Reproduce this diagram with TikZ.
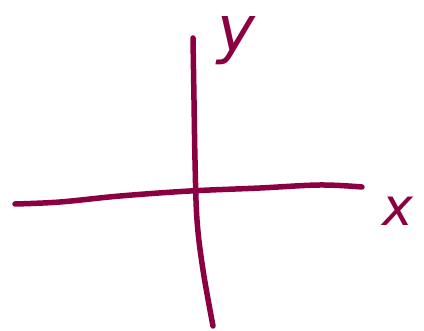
\documentclass[tikz,border=0pt]{standalone}
\usepackage{fontspec}
\setmainfont{DejaVu Sans}
\definecolor{ink}{RGB}{138,0,66}
\begin{document}
\begin{tikzpicture}[x=1pt,y=-1pt,
  stroke/.style={draw=ink,line width=5.5pt,line cap=round,line join=round},
  lbl/.style={text=ink,inner sep=0pt,font=\itshape}]
\useasboundingbox (0,0) rectangle (424,331);
\coordinate (xl) at (15,204);
\coordinate (xr) at (362,187);
\coordinate (yt) at (193,38);
\coordinate (yb) at (213,326);
\draw[stroke] plot[smooth,tension=0.6] coordinates {(xl) (60,202) (120,196) (190,191) (260,188) (320,185) (xr)};
\draw[stroke] plot[smooth,tension=0.6] coordinates {(yt) (194,100) (195,160) (197,220) (203,270) (yb)};
\node[lbl,font=\itshape\fontsize{64}{64}\selectfont,anchor=base] (ylabel) at (236,52) {y};
\node[lbl,font=\itshape\fontsize{52}{52}\selectfont,anchor=base] (xlabel) at (398,226) {x};
\end{tikzpicture}
\end{document}
